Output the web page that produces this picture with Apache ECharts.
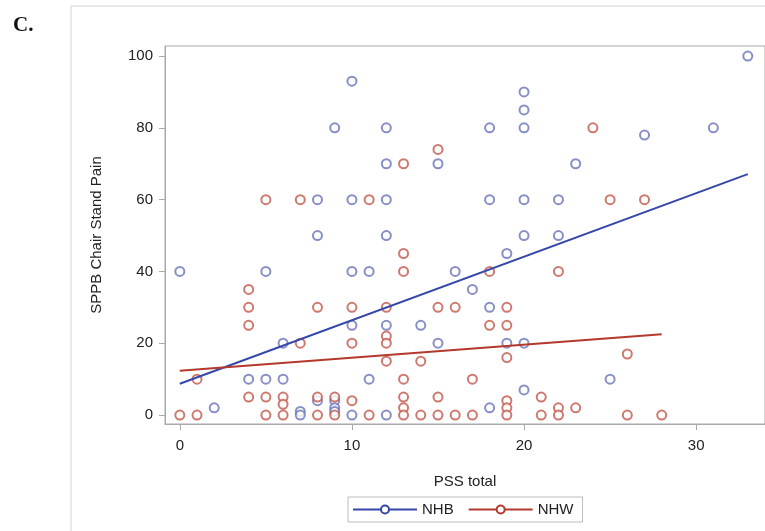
<!DOCTYPE html>
<html>
<head>
<meta charset="utf-8">
<script src="https://cdn.jsdelivr.net/npm/echarts@6/dist/echarts.min.js"></script>
<style>
  html, body { margin: 0; padding: 0; background: #fff; }
  #chart { width: 765px; height: 531px; }
</style>
</head>
<body>
<div id="chart"></div>
<script>
// NHB observations (PSS total, SPPB chair stand pain)
const nhbPss = [0, 2, 4, 5, 5, 6, 6, 7, 7, 8, 8, 8, 9, 9, 9, 9, 10, 10, 10, 10, 10, 11, 11,
  12, 12, 12, 12, 12, 12, 14, 15, 15, 16, 17, 18, 18, 18, 18, 19, 19,
  20, 20, 20, 20, 20, 20, 20, 22, 22, 23, 25, 27, 31, 33]
const nhbPain = [40, 2, 10, 10, 40, 10, 20, 1, 0, 60, 50, 4, 80, 4, 2, 1, 93, 60, 40, 25, 0, 40, 10,
  80, 70, 60, 50, 25, 0, 25, 70, 20, 40, 35, 80, 60, 30, 2, 45, 20,
  90, 85, 80, 60, 50, 20, 7, 60, 50, 70, 10, 78, 80, 100]

// NHW observations
const nhwPss = [0, 1, 1, 4, 4, 4, 4, 5, 5, 5, 6, 6, 6, 7, 7, 8, 8, 8, 9, 9, 10, 10, 10, 11, 11,
  12, 12, 12, 12, 13, 13, 13, 13, 13, 13, 13, 14, 14, 15, 15, 15, 15, 16, 16, 17, 17,
  18, 18, 19, 19, 19, 19, 19, 19, 21, 21, 22, 22, 22, 23, 24, 25, 26, 26, 27, 28]
const nhwPain = [0, 0, 10, 35, 30, 25, 5, 60, 5, 0, 5, 3, 0, 60, 20, 30, 5, 0, 5, 0, 30, 20, 4, 60, 0,
  30, 22, 20, 15, 70, 45, 40, 10, 5, 2, 0, 15, 0, 74, 30, 5, 0, 30, 0, 10, 0,
  40, 25, 30, 25, 16, 4, 2, 0, 5, 0, 40, 2, 0, 2, 80, 60, 17, 0, 60, 0]

// fitted regression lines (end points)
const nhbFitX = [0, 33]
const nhbFitY = [8.7, 67.1]
const nhwFitX = [0, 28]
const nhwFitY = [12.3, 22.5]

const xTicks = [0, 10, 20, 30]
const yTicks = [0, 20, 40, 60, 80, 100]

const zip = (xs, ys) => xs.map((x, i) => [x, ys[i]])

const chart = echarts.init(document.getElementById('chart'))

const axisGray = '#a9a9a9'
const textColor = '#222'
const font = 'Liberation Sans, Arial, sans-serif'

chart.setOption({
  animation: false,
  backgroundColor: '#fff',
  textStyle: { fontFamily: font },
  title: {
    text: 'C.',
    left: 8,
    top: 10,
    textStyle: { fontFamily: 'Liberation Serif, Times New Roman, serif', fontSize: 21, fontWeight: 'bold', color: '#111' }
  },
  graphic: [
    {
      type: 'rect',
      shape: { x: 71, y: 6, width: 800, height: 600 },
      style: { fill: 'none', stroke: '#d4d4d4', lineWidth: 1 },
      silent: true
    }
  ],
  grid: {
    left: 165,
    top: 46,
    right: -7,
    bottom: 107,
    show: true,
    borderColor: axisGray,
    borderWidth: 1
  },
  legend: {
    left: 348,
    top: 497,
    orient: 'horizontal',
    data: ['NHB', 'NHW'],
    itemWidth: 64,
    itemHeight: 10,
    itemGap: 14,
    padding: [5, 9, 5, 4],
    borderColor: '#bdbdbd',
    borderWidth: 1,
    textStyle: { fontSize: 15, color: textColor, fontFamily: font }
  },
  xAxis: {
    type: 'value',
    min: -0.86,
    max: 34,
    name: 'PSS total',
    nameLocation: 'middle',
    nameGap: 50,
    nameTextStyle: { fontSize: 15, color: textColor },
    axisLine: { show: true, onZero: false, lineStyle: { color: axisGray } },
    axisTick: { show: true, length: 6, lineStyle: { color: axisGray }, customValues: xTicks },
    axisLabel: { fontSize: 15, color: textColor, margin: 14, customValues: xTicks },
    splitLine: { show: false }
  },
  yAxis: {
    type: 'value',
    min: -2.5,
    max: 102.8,
    name: 'SPPB Chair Stand Pain',
    nameLocation: 'middle',
    nameGap: 61,
    nameTextStyle: { fontSize: 15, color: textColor },
    axisLine: { show: true, onZero: false, lineStyle: { color: axisGray } },
    axisTick: { show: true, length: 6, lineStyle: { color: axisGray }, customValues: yTicks },
    axisLabel: { fontSize: 15, color: textColor, margin: 12, customValues: yTicks },
    splitLine: { show: false }
  },
  series: [
    {
      name: 'NHB',
      type: 'line',
      data: zip(nhbFitX, nhbFitY),
      showSymbol: false,
      symbol: 'emptyCircle',
      symbolSize: 9,
      lineStyle: { color: '#3547a8', width: 2 },
      itemStyle: { color: '#3547a8' }
    },
    {
      name: 'NHW',
      type: 'line',
      data: zip(nhwFitX, nhwFitY),
      showSymbol: false,
      symbol: 'emptyCircle',
      symbolSize: 9,
      lineStyle: { color: '#b4382c', width: 2 },
      itemStyle: { color: '#b4382c' }
    },
    {
      name: 'NHB',
      type: 'scatter',
      data: zip(nhbPss, nhbPain),
      symbol: 'emptyCircle',
      symbolSize: 9,
      itemStyle: { color: '#6a73b9', borderColor: '#6a73b9', borderWidth: 1.6 }
    },
    {
      name: 'NHW',
      type: 'scatter',
      data: zip(nhwPss, nhwPain),
      symbol: 'emptyCircle',
      symbolSize: 9,
      itemStyle: { color: '#c2574b', borderColor: '#c2574b', borderWidth: 1.6 }
    }
  ]
})
</script>
</body>
</html>
